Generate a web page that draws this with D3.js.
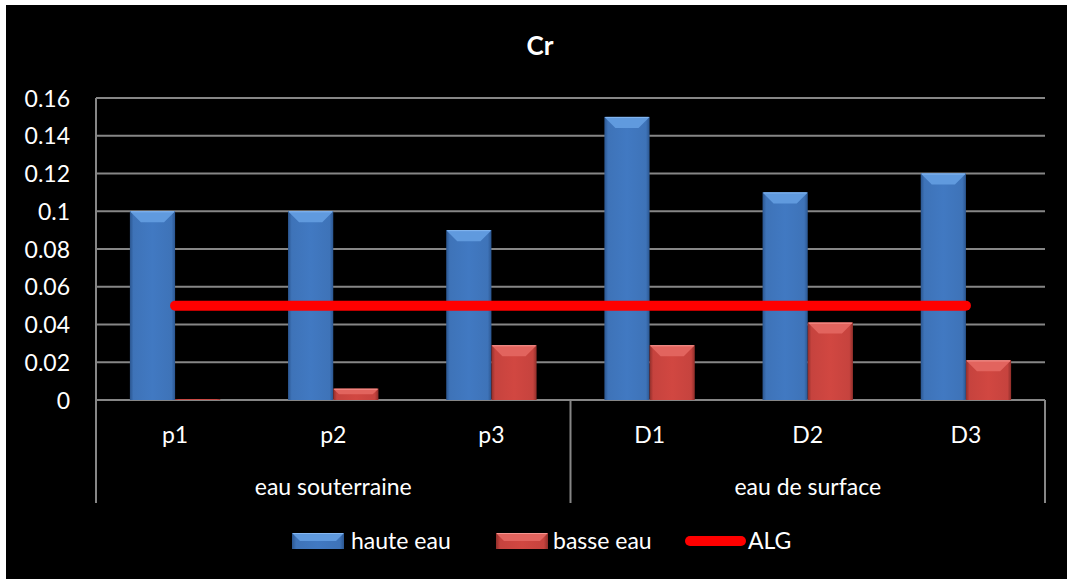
<!DOCTYPE html>
<html>
<head>
<meta charset="utf-8">
<script src="https://cdn.jsdelivr.net/npm/d3@7"></script>
<style>
html,body{margin:0;padding:0;background:#fff;}
svg{display:block;}
text{font-family:Lato,"Open Sans",sans-serif;fill:#fff;}
</style>
</head>
<body>
<svg id="chart" width="1067" height="579"></svg>
<script>
const categories = ["p1","p2","p3","D1","D2","D3"];
const groups = ["eau souterraine","eau de surface"];
const groupSizes = [3,3];
const seriesNames = ["haute eau","basse eau"];
const hauteEau = [0.10,0.10,0.09,0.15,0.11,0.12];
const basseEau = [0.0005,0.006,0.029,0.029,0.041,0.021];
const alg = [0.05,0.05,0.05,0.05,0.05,0.05];
const algName = "ALG";
const yTicks = [0,0.02,0.04,0.06,0.08,0.1,0.12,0.14,0.16];
const yTickLabels = ["0","0.02","0.04","0.06","0.08","0.1","0.12","0.14","0.16"];
const chartTitle = "Cr";

(function(){
const svg = d3.select("#chart");
const defs = svg.append("defs");

function grad(id, edge, mid){
  const g = defs.append("linearGradient").attr("id",id).attr("x1","0").attr("x2","1").attr("y1","0").attr("y2","0");
  g.append("stop").attr("offset","0").attr("stop-color",edge);
  g.append("stop").attr("offset","0.08").attr("stop-color",mid);
  g.append("stop").attr("offset","0.5").attr("stop-color",d3.color(mid).brighter(0.15));
  g.append("stop").attr("offset","0.92").attr("stop-color",mid);
  g.append("stop").attr("offset","1").attr("stop-color",edge);
}
grad("gBlue","#2b5690","#3e73b8");
grad("gRed","#902e2a","#c6433e");
const styles = [
  {fill:"url(#gBlue)", top:"#609ade", topEdge:"#86b8f2"},
  {fill:"url(#gRed)", top:"#e2645e", topEdge:"#f59590"}
];

svg.append("rect").attr("x",6).attr("y",5).attr("width",1061).attr("height",574).attr("fill","#000");

const pLeft = 96, pRight = 1045, pTop = 98, pBottom = 400;
const x = d3.scaleBand().domain(categories).range([pLeft,pRight]).padding(0);
const x1 = d3.scaleBand().domain(seriesNames).range([0,x.bandwidth()]).paddingInner(0).paddingOuter(0.75);
const y = d3.scaleLinear().domain([0,0.16]).range([pBottom,pTop]);

// gridlines
svg.append("g").selectAll("line").data(yTicks).join("line")
  .attr("x1",pLeft).attr("x2",pRight)
  .attr("y1",d=>y(d)).attr("y2",d=>y(d))
  .attr("stroke","#868686").attr("stroke-width",2);

// y axis labels
const yAxis = d3.axisLeft(y).tickValues(yTicks).tickFormat((d,i)=>yTickLabels[i]).tickSize(0).tickPadding(26);
const ya = svg.append("g").attr("transform",`translate(${pLeft},0)`).call(yAxis);
ya.select(".domain").remove();
ya.selectAll("text").attr("font-family","Lato").attr("font-size",23).attr("fill","#fff").attr("dy","0.35em");

// axis verticals (y axis + group separators)
const bounds = [0];
groupSizes.reduce((a,s)=>{bounds.push(a+s);return a+s;},0);
const xb = i => i < categories.length ? x(categories[i]) : pRight;
svg.append("line").attr("x1",pLeft).attr("x2",pLeft).attr("y1",pTop).attr("y2",pBottom).attr("stroke","#868686").attr("stroke-width",2);
svg.append("g").selectAll("line").data(bounds).join("line")
  .attr("x1",d=>xb(d)).attr("x2",d=>xb(d)).attr("y1",pBottom).attr("y2",503)
  .attr("stroke","#868686").attr("stroke-width",2);

// bars
function drawBar(g, bx, by, w, h, st){
  g.append("rect").attr("x",bx).attr("y",by).attr("width",w).attr("height",h).attr("fill",st.fill);
  const b = Math.min(11, h/2);
  if (h > 2){
    g.append("path").attr("d",`M${bx},${by}L${bx+w},${by}L${bx+w-b},${by+b}L${bx+b},${by+b}Z`).attr("fill",st.top);
    g.append("line").attr("x1",bx+1).attr("x2",bx+w-1).attr("y1",by+0.5).attr("y2",by+0.5).attr("stroke",st.topEdge).attr("stroke-width",1);
  }
}
const barsG = svg.append("g");
[hauteEau, basseEau].forEach((vals, si)=>{
  vals.forEach((v,i)=>{
    const bx = x(categories[i]) + x1(seriesNames[si]);
    const by = y(v);
    drawBar(barsG, bx, by, x1.bandwidth(), y(0)-by, styles[si]);
  });
});

// ALG line
const line = d3.line().x((d,i)=>x(categories[i])+x.bandwidth()/2).y(d=>y(d));
svg.append("path").datum(alg).attr("d",line).attr("fill","none")
  .attr("stroke","#ff0000").attr("stroke-width",10).attr("stroke-linecap","round");

// category labels
svg.append("g").selectAll("text").data(categories).join("text")
  .attr("x",d=>x(d)+x.bandwidth()/2).attr("y",443)
  .attr("text-anchor","middle").attr("font-size",23).text(d=>d);

// group labels
svg.append("g").selectAll("text").data(groups).join("text")
  .attr("x",(d,i)=>(xb(bounds[i])+xb(bounds[i+1]))/2).attr("y",495)
  .attr("text-anchor","middle").attr("font-size",23).text(d=>d);

// title
svg.append("text").attr("x",540).attr("y",55).attr("text-anchor","middle")
  .attr("font-size",26).attr("font-weight","bold").text(chartTitle);

// legend
const lg = svg.append("g");
const legendItems = [
  {name:seriesNames[0], sx:292, tx:351, st:styles[0]},
  {name:seriesNames[1], sx:496, tx:553, st:styles[1]}
];
legendItems.forEach(it=>{
  drawBar(lg, it.sx, 533, 52, 16, it.st);
  lg.append("text").attr("x",it.tx).attr("y",549).attr("font-size",23).text(it.name);
});
lg.append("line").attr("x1",690).attr("x2",741).attr("y1",541).attr("y2",541)
  .attr("stroke","#ff0000").attr("stroke-width",10).attr("stroke-linecap","round");
lg.append("text").attr("x",748).attr("y",549).attr("font-size",23).text(algName);
})();
</script>
</body>
</html>
